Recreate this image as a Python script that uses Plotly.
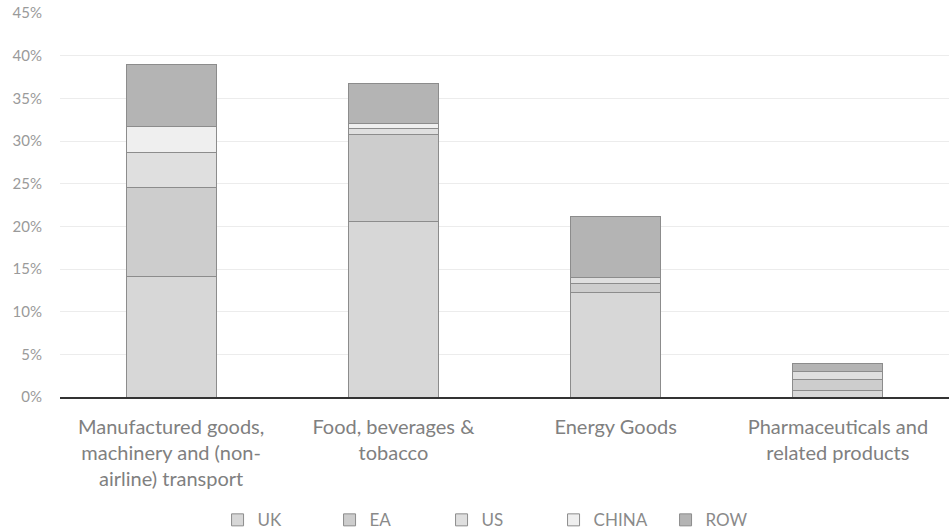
import plotly.graph_objects as go

# Product categories (x axis) and the regional shares stacked in each bar
categories = [
    "Manufactured goods,<br>machinery and (non-<br>airline) transport",
    "Food, beverages &<br>tobacco",
    "Energy Goods",
    "Pharmaceuticals and<br>related products",
]
uk = [0.141, 0.206, 0.122, 0.008]
ea = [0.105, 0.102, 0.011, 0.013]
us = [0.041, 0.007, 0.007, 0.009]
china = [0.030, 0.005, 0.000, 0.000]
row = [0.073, 0.047, 0.071, 0.0095]

y_ticks = [0, 0.05, 0.10, 0.15, 0.20, 0.25, 0.30, 0.35, 0.40, 0.45]
y_tick_labels = ["0%", "5%", "10%", "15%", "20%", "25%", "30%", "35%", "40%", "45%"]

series = [
    ("UK", uk, "#d7d7d7"),
    ("EA", ea, "#cdcdcd"),
    ("US", us, "#dfdfdf"),
    ("CHINA", china, "#efefef"),
    ("ROW", row, "#b4b4b4"),
]

fig = go.Figure()
for name, vals, color in series:
    fig.add_trace(go.Bar(
        name=name,
        x=categories,
        y=vals,
        marker=dict(color=color, line=dict(color="#8c8c8c", width=1)),
    ))

fig.update_layout(
    barmode="stack",
    bargap=0.595,
    width=950,
    height=532,
    margin=dict(l=60, r=1, t=13, b=135),
    paper_bgcolor="white",
    plot_bgcolor="white",
    font=dict(family="Lato, Carlito, sans-serif", color="#7a7a7a"),
    legend=dict(
        orientation="h",
        xref="container",
        yref="container",
        x=0.229,
        y=0.022,
        xanchor="left",
        yanchor="middle",
        entrywidth=67,
        entrywidthmode="pixels",
        font=dict(size=17, color="#8a8a8a"),
        traceorder="normal",
        itemwidth=30,
    ),
    xaxis=dict(
        showgrid=False,
        tickfont=dict(size=20, color="#808080"),
        ticks="",
        ticklabelstandoff=11,
        showline=True,
        linecolor="#333333",
        linewidth=1.5,
    ),
    yaxis=dict(
        range=[0, 0.45],
        tickvals=y_ticks,
        ticktext=y_tick_labels,
        showgrid=True,
        gridcolor="#ececec",
        gridwidth=1,
        zeroline=False,
        tickfont=dict(size=15, color="#9a9a9a"),
        ticklabelstandoff=17,
        showline=False,
    ),
)

fig.write_html("out.html")
